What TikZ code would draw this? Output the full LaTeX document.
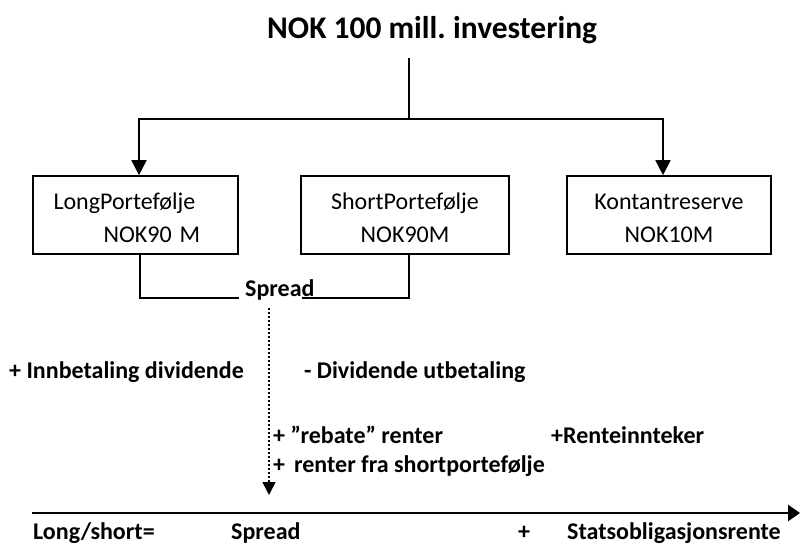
\documentclass[tikz,border=0pt]{standalone}
\usepackage{fontspec}
\setmainfont{Carlito}
\usetikzlibrary{arrows.meta,positioning}

\newcommand{\topstrut}{\rule{0pt}{23pt}}

\tikzset{
  box/.style={draw,line width=1.6pt,minimum height=78pt,inner sep=0pt,
    font=\fontsize{24}{33}\selectfont},
  lbl/.style={inner sep=0pt,anchor=base west,font=\bfseries\fontsize{24}{28}\selectfont},
  conn/.style={line width=1.6pt},
  flow/.style={conn,-{Triangle[length=15pt,width=15pt]}},
}

\begin{document}
\begin{tikzpicture}[x=1pt,y=-1pt]
\useasboundingbox (0,0) rectangle (801,545);

\node[lbl,font=\bfseries\fontsize{31.5}{36}\selectfont] (title) at (267,39) {NOK 100 mill.\ investering};

% the three portfolios
\node[box,minimum width=205pt,text width=164pt,align=left] (long) at (135.5,215)
  {\topstrut LongPortefølje\\\hspace*{50pt}NOK90 M};
\node[box,minimum width=208pt,align=center] (short) at (405,215) {\topstrut ShortPortefølje\\NOK90M};
\node[box,minimum width=204pt,align=center] (cash) at (669,215) {\topstrut Kontantreserve\\NOK10M};

\coordinate (stem) at (409,58);
\coordinate (split) at (409,119);
\draw[conn] (stem) -- (split);
\draw[flow] (split) -| ([xshift=3.5pt]long.north);
\draw[flow] (split) -| ([xshift=-6pt]cash.north);

% spread bracket
\coordinate (sl) at (239,298);
\coordinate (sr) at (302,298);
\draw[conn] ([xshift=4.5pt]long.south) |- (sl);
\draw[conn] (sr) -| ([xshift=4pt]short.south);
\node[lbl] (spread) at (245,297) {Spread};

\coordinate (flowtop) at (269,308);
\coordinate (flowend) at (269,495);
\draw[line width=1.6pt,dash pattern=on 1.8pt off 2.2pt,-{Triangle[length=13pt,width=13pt]}] (flowtop) -- (flowend);

\node[lbl] (inn) at (9,379) {+ Innbetaling dividende};
\node[lbl] (utb) at (304,379) {- Dividende utbetaling};
\node[lbl] (rebate) at (273,443) {+ ”rebate” renter};
\node[lbl] (inntekt) at (551,443) {+Renteinnteker};
\node[lbl] (rentes) at (273,472) {+\hspace{9pt}renter fra shortportefølje};

% result axis
\coordinate (axl) at (32,513);
\coordinate (axr) at (800,513);
\draw[line width=2.6pt,-{Triangle[length=12pt,width=16pt]}] (axl) -- (axr);

\node[lbl] (ls) at (33,539) {Long/short=};
\node[lbl] (spr) at (231,539) {Spread};
\node[lbl] (plus) at (518,539) {+};
\node[lbl] (stat) at (567,539) {Statsobligasjonsrente};
\end{tikzpicture}
\end{document}
